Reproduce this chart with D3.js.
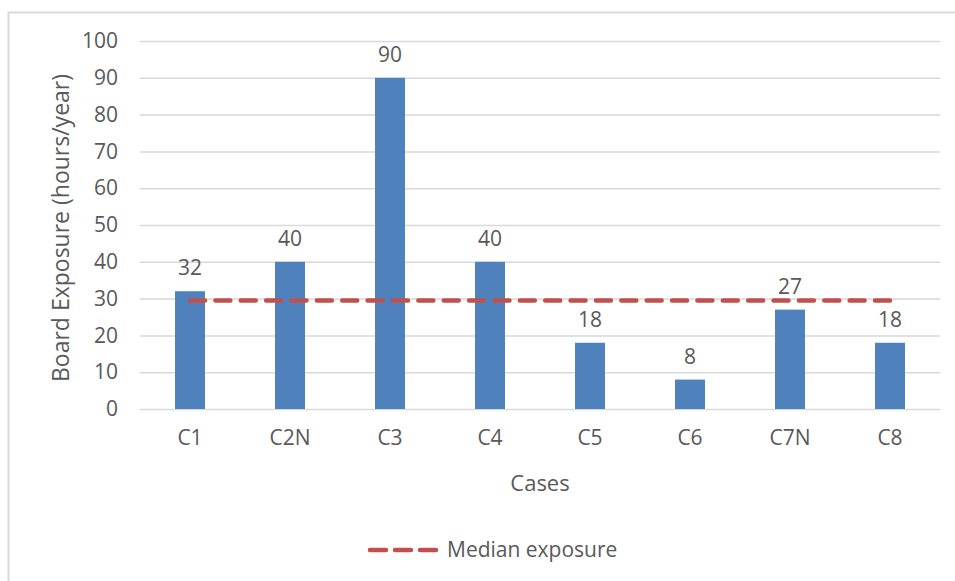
<!DOCTYPE html>
<html>
<head>
<meta charset="utf-8">
<script src="https://cdn.jsdelivr.net/npm/d3@7"></script>
<style>
  html, body { margin: 0; padding: 0; background: #fff; }
  svg { display: block; }
  text { font-family: "Open Sans", sans-serif; fill: #595959; }
</style>
</head>
<body>
<svg id="chart" width="955" height="581"></svg>
<script>
// Board exposure per case, with the median exposure reference line
const cases = ["C1", "C2N", "C3", "C4", "C5", "C6", "C7N", "C8"];
const exposure = [32, 40, 90, 40, 18, 8, 27, 18];
const medianExposure = 29.5;
const yTicks = [0, 10, 20, 30, 40, 50, 60, 70, 80, 90, 100];
const yTitle = "Board Exposure (hours/year)";
const xTitle = "Cases";
const legendLabel = "Median exposure";

const svg = d3.select("#chart");
const W = 955, H = 581;
const plot = { left: 140, right: 940, top: 41, bottom: 409 };
const barColor = "#4f81bd";
const lineColor = "#c0504d";
const gridColor = "#d9d9d9";
const labelSize = "21px";
const titleSize = "23px";

// chart frame
svg.append("path")
  .attr("d", `M8.5,${H} V12.5 H${W}`)
  .attr("fill", "none")
  .attr("stroke", gridColor)
  .attr("stroke-width", 2);

const x = d3.scaleBand()
  .domain(cases)
  .range([plot.left, plot.right])
  .paddingInner(0.7)
  .paddingOuter(0.35);

const y = d3.scaleLinear()
  .domain([0, 100])
  .range([plot.bottom, plot.top]);

// horizontal gridlines + y labels
const yAxis = d3.axisLeft(y)
  .tickValues(yTicks)
  .tickSize(-(plot.right - plot.left))
  .tickPadding(22)
  .tickFormat(d3.format("d"));

const gy = svg.append("g")
  .attr("transform", `translate(${plot.left},0)`)
  .call(yAxis);
gy.select(".domain").remove();
gy.selectAll(".tick line").attr("stroke", gridColor).attr("stroke-width", 1.5);
gy.selectAll(".tick text")
  .attr("fill", "#595959")
  .style("font-family", "'Open Sans', sans-serif")
  .style("font-size", labelSize);

// x axis labels
const xAxis = d3.axisBottom(x).tickSize(0).tickPadding(21);
const gx = svg.append("g")
  .attr("transform", `translate(0,${plot.bottom})`)
  .call(xAxis);
gx.select(".domain").remove();
gx.selectAll(".tick text")
  .attr("fill", "#595959")
  .style("font-family", "'Open Sans', sans-serif")
  .style("font-size", labelSize);

// bars
svg.append("g").selectAll("rect")
  .data(cases)
  .join("rect")
  .attr("x", d => x(d))
  .attr("width", x.bandwidth())
  .attr("y", (d, i) => y(exposure[i]))
  .attr("height", (d, i) => y(0) - y(exposure[i]))
  .attr("fill", barColor);

// value labels
svg.append("g").selectAll("text")
  .data(cases)
  .join("text")
  .attr("x", d => x(d) + x.bandwidth() / 2)
  .attr("y", (d, i) => y(exposure[i]) - 16)
  .attr("text-anchor", "middle")
  .style("font-size", labelSize)
  .text((d, i) => exposure[i]);

// median reference line across the case centres;
// the dash period is fitted so a dash lands on both ends
const xFirst = x(cases[0]) + x.bandwidth() / 2;
const xLast = x(cases[cases.length - 1]) + x.bandwidth() / 2;
const dashLen = 15;
const nDash = 27;
const dashGap = (xLast - xFirst - dashLen) / nDash - dashLen;
svg.append("line")
  .attr("x1", xFirst)
  .attr("x2", xLast)
  .attr("y1", y(medianExposure))
  .attr("y2", y(medianExposure))
  .attr("stroke", lineColor)
  .attr("stroke-width", 4.5)
  .attr("stroke-linecap", "round")
  .attr("stroke-dasharray", `${dashLen},${dashGap}`);

// axis titles
svg.append("text")
  .attr("transform", `translate(69,${(plot.top + plot.bottom) / 2 + 3}) rotate(-90)`)
  .attr("text-anchor", "middle")
  .style("font-size", titleSize)
  .text(yTitle);

svg.append("text")
  .attr("x", (plot.left + plot.right) / 2)
  .attr("y", 491)
  .attr("text-anchor", "middle")
  .style("font-size", "22px")
  .text(xTitle);

// legend
const lg = svg.append("g");
lg.append("line")
  .attr("x1", 370).attr("x2", 437)
  .attr("y1", 550).attr("y2", 550)
  .attr("stroke", lineColor)
  .attr("stroke-width", 4.5)
  .attr("stroke-linecap", "round")
  .attr("stroke-dasharray", "16,9");
lg.append("text")
  .attr("x", 447)
  .attr("y", 550)
  .attr("dy", "0.35em")
  .style("font-size", labelSize)
  .text(legendLabel);
</script>
</body>
</html>
